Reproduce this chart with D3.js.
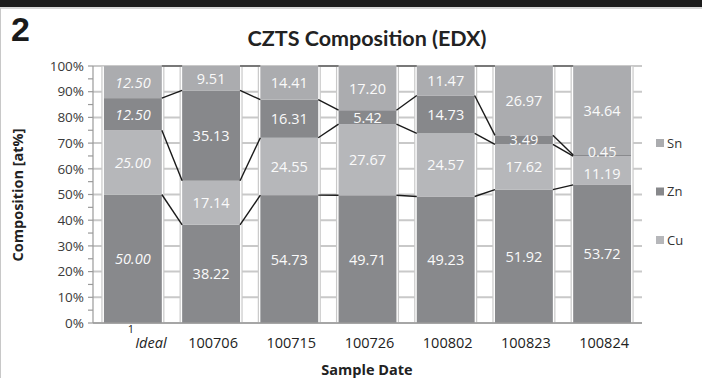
<!DOCTYPE html>
<html>
<head>
<meta charset="utf-8">
<script src="https://cdn.jsdelivr.net/npm/d3@7"></script>
<style>
  html, body { margin: 0; padding: 0; background: #fff; }
  svg { display: block; }
</style>
</head>
<body>
<svg id="chart" width="702" height="378"></svg>
<script>
// ---- data ----
const categories = ["Ideal", "100706", "100715", "100726", "100802", "100823", "100824"];
const S  = [50.00, 38.22, 54.73, 49.71, 49.23, 51.92, 53.72];
const Cu = [25.00, 17.14, 24.55, 27.67, 24.57, 17.62, 11.19];
const Zn = [12.50, 35.13, 16.31,  5.42, 14.73,  3.49,  0.45];
const Sn = [12.50,  9.51, 14.41, 17.20, 11.47, 26.97, 34.64];
const seriesNames = ["S", "Cu", "Zn", "Sn"];
const legendNames = ["Sn", "Zn", "Cu"];
const yTicks = [0, 0.1, 0.2, 0.3, 0.4, 0.5, 0.6, 0.7, 0.8, 0.9, 1.0];

const colors = { S: "#88898c", Cu: "#b6b7ba", Zn: "#87888b", Sn: "#abacaf" };

const rows = categories.map((c, i) => ({ cat: c, S: S[i], Cu: Cu[i], Zn: Zn[i], Sn: Sn[i] }));

const svg = d3.select("#chart");
const W = 702, H = 378;

// frame decorations
svg.append("rect").attr("x", 0).attr("y", 0).attr("width", W).attr("height", 7).attr("fill", "#1c1c1c");
svg.append("line").attr("x1", 0).attr("x2", W).attr("y1", 8).attr("y2", 8).attr("stroke", "#b0b0b0").attr("stroke-width", 1);
svg.append("line").attr("x1", 0.5).attr("x2", 0.5).attr("y1", 8).attr("y2", H).attr("stroke", "#c8c8c8").attr("stroke-width", 1);

svg.append("text").attr("x", 11).attr("y", 41)
  .attr("font-family", "Liberation Sans, Arial, sans-serif").attr("font-weight", "bold")
  .attr("font-size", 34).attr("fill", "#1a1a1a").text("2");

const x = d3.scaleBand().domain(categories).range([93, 642]).paddingInner(0.26).paddingOuter(0.14);
const y = d3.scaleLinear().domain([0, 1]).range([323, 66]);

const stack = d3.stack().keys(seriesNames).offset(d3.stackOffsetExpand);
const layers = stack(rows);

// gridlines
svg.append("g").selectAll("line").data(yTicks).join("line")
  .attr("x1", 93).attr("x2", 642)
  .attr("y1", d => y(d)).attr("y2", d => y(d))
  .attr("stroke", "#c9c9c9").attr("stroke-width", 2);

// bar outlines
svg.append("g").selectAll("rect").data(categories).join("rect")
  .attr("x", d => x(d) - 2).attr("width", x.bandwidth() + 4)
  .attr("y", y(1)).attr("height", y(0) - y(1))
  .attr("fill", "#fff").attr("stroke", "#c9c9c9").attr("stroke-width", 1.2);

// bars
const gBars = svg.append("g");
layers.forEach(layer => {
  gBars.selectAll(null).data(layer).join("rect")
    .attr("x", d => x(d.data.cat)).attr("width", x.bandwidth())
    .attr("y", d => y(d[1])).attr("height", d => y(d[0]) - y(d[1]))
    .attr("fill", colors[layer.key]);
});

// series lines
const gLines = svg.append("g");
layers.forEach(layer => {
  for (let k = 0; k < layer.length - 1; k++) {
    gLines.append("line")
      .attr("x1", x(categories[k]) + x.bandwidth()).attr("y1", y(layer[k][1]))
      .attr("x2", x(categories[k + 1])).attr("y2", y(layer[k + 1][1]))
      .attr("stroke", layer.key === "Sn" ? "#555" : "#1a1a1a").attr("stroke-width", 1.4);
  }
});

// value labels
const gLab = svg.append("g").attr("font-family", "Open Sans, sans-serif").attr("font-size", 14.5).attr("fill", "#fafafa");
layers.forEach(layer => {
  gLab.selectAll(null).data(layer).join("text")
    .attr("x", d => x(d.data.cat) + x.bandwidth() / 2)
    .attr("y", d => (y(d[0]) + y(d[1])) / 2)
    .attr("dy", d => (d.data.cat === "100824" && layer.key === "Zn") ? "0.1em" : (d.data.cat === "100824" && layer.key === "Cu") ? "0.55em" : "0.38em")
    .attr("text-anchor", "middle")
    .attr("font-style", d => d.data.cat === "Ideal" ? "italic" : "normal")
    .text(d => d.data[layer.key].toFixed(2));
});

// y axis
const gy = svg.append("g").attr("transform", "translate(93,0)");
gy.append("line").attr("x1", 0).attr("x2", 0).attr("y1", y(1)).attr("y2", y(0)).attr("stroke", "#9a9a9a").attr("stroke-width", 1.2);
const minorTicks = d3.range(0, 21).map(i => i / 20);
gy.selectAll(".tk").data(minorTicks).join("line")
  .attr("x1", -5).attr("x2", 0).attr("y1", d => y(d)).attr("y2", d => y(d))
  .attr("stroke", "#9a9a9a").attr("stroke-width", 1.2);
gy.selectAll(".lb").data(yTicks).join("text")
  .attr("x", -9).attr("y", d => y(d)).attr("dy", "0.35em")
  .attr("text-anchor", "end")
  .attr("font-family", "Open Sans, sans-serif").attr("font-size", 13.5).attr("fill", "#3a3a3a")
  .text(d => d3.format(".0%")(d));

// x axis
svg.append("line").attr("x1", 93).attr("x2", 642).attr("y1", y(0)).attr("y2", y(0)).attr("stroke", "#9a9a9a").attr("stroke-width", 1.5);
svg.append("g").selectAll("text").data(categories).join("text")
  .attr("x", d => x(d) + x.bandwidth() / 2 + (d === "Ideal" ? 18 : 2))
  .attr("y", 348)
  .attr("text-anchor", "middle")
  .attr("font-family", "Open Sans, sans-serif").attr("font-size", 14.5).attr("fill", "#222")
  .attr("font-style", d => d === "Ideal" ? "italic" : "normal")
  .text(d => d);
svg.append("text").attr("x", x("Ideal") + x.bandwidth() / 2 - 2).attr("y", 333)
  .attr("text-anchor", "middle").attr("font-family", "Open Sans, sans-serif").attr("font-size", 11).attr("fill", "#222").text("1");

// titles
svg.append("text").attr("x", 367).attr("y", 46).attr("text-anchor", "middle")
  .attr("font-family", "Lato, Open Sans, sans-serif").attr("font-weight", "bold").attr("font-size", 21.5).attr("fill", "#222")
  .text("CZTS Composition (EDX)");
svg.append("text").attr("x", 367).attr("y", 375).attr("text-anchor", "middle")
  .attr("font-family", "Open Sans, sans-serif").attr("font-weight", "bold").attr("font-size", 14.5).attr("fill", "#222")
  .text("Sample Date");
svg.append("text").attr("transform", "translate(23,195) rotate(-90)").attr("text-anchor", "middle")
  .attr("font-family", "Open Sans, sans-serif").attr("font-weight", "bold").attr("font-size", 14.5).attr("fill", "#222")
  .text("Composition [at%]");

// legend
const legY = d3.scalePoint().domain(legendNames).range([143, 240]);
const gLeg = svg.append("g");
gLeg.selectAll("rect").data(legendNames).join("rect")
  .attr("x", 656).attr("y", d => legY(d) - 4).attr("width", 8).attr("height", 8)
  .attr("fill", d => colors[d]);
gLeg.selectAll("text").data(legendNames).join("text")
  .attr("x", 667).attr("y", d => legY(d)).attr("dy", "0.36em")
  .attr("font-family", "Open Sans, sans-serif").attr("font-size", 13).attr("fill", "#333")
  .text(d => d);
</script>
</body>
</html>
